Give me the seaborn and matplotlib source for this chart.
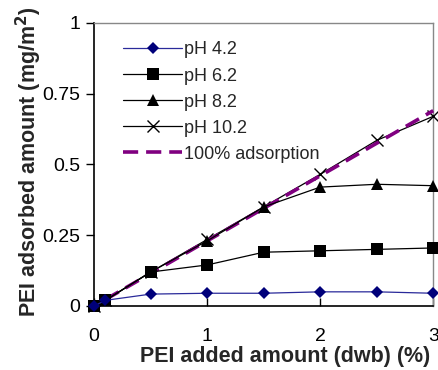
import matplotlib
matplotlib.use("Agg")
import matplotlib.pyplot as plt
import seaborn as sns
import pandas as pd

x_vals = [0, 0.1, 0.5, 1, 1.5, 2, 2.5, 3]
ph42 = [0, 0.02, 0.042, 0.045, 0.045, 0.05, 0.05, 0.045]
ph62 = [0, 0.02, 0.12, 0.145, 0.19, 0.195, 0.20, 0.205]
ph82 = [0, 0.02, 0.12, 0.23, 0.35, 0.42, 0.43, 0.425]
ph102 = [0, 0.02, 0.12, 0.235, 0.35, 0.465, 0.585, 0.67]
full_x = [0.1, 0.5, 1, 1.5, 2, 2.5, 3]
full_y = [0.023, 0.115, 0.23, 0.345, 0.46, 0.575, 0.69]

labels = ["pH 4.2", "pH 6.2", "pH 8.2", "pH 10.2", "100% adsorption"]
xticks = [0, 1, 2, 3]
yticks = [0, 0.25, 0.5, 0.75, 1]
yticklabels = ["0", "0.25", "0.5", "0.75", "1"]

sns.set_style("white")
plt.rcParams["font.family"] = ["Liberation Sans", "DejaVu Sans"]

fig = plt.figure(figsize=(4.38, 3.70), dpi=100)
ax = fig.add_axes([0.215, 0.173, 0.774, 0.765])

df42 = pd.DataFrame({"x": x_vals, "y": ph42})
df62 = pd.DataFrame({"x": x_vals, "y": ph62})
df82 = pd.DataFrame({"x": x_vals, "y": ph82})
df102 = pd.DataFrame({"x": x_vals, "y": ph102})
dffull = pd.DataFrame({"x": full_x, "y": full_y})

sns.lineplot(data=df102, x="x", y="y", ax=ax, color="black", lw=0.9,
             marker="x", markersize=8, markeredgewidth=1.0, markeredgecolor="black",
             label=labels[3], clip_on=False, zorder=3)
sns.lineplot(data=dffull, x="x", y="y", ax=ax, color="#800080", lw=2.6,
             linestyle=(0, (4.2, 2.2)), label=labels[4], clip_on=False, zorder=4)
sns.lineplot(data=df82, x="x", y="y", ax=ax, color="black", lw=0.9,
             marker="^", markersize=8, markeredgewidth=0, label=labels[2], clip_on=False, zorder=5)
sns.lineplot(data=df62, x="x", y="y", ax=ax, color="black", lw=0.9,
             marker="s", markersize=8, markeredgewidth=0, label=labels[1], clip_on=False, zorder=6)
sns.lineplot(data=df42, x="x", y="y", ax=ax, color="#2a2a9a", lw=0.9,
             marker="D", markersize=6, markerfacecolor="#00007a", markeredgewidth=0,
             label=labels[0], clip_on=False, zorder=7)

ax.set_xlim(0, 3)
ax.set_ylim(0, 1)
ax.set_xticks(xticks)
ax.set_xticklabels([str(t) for t in xticks])
ax.set_yticks(yticks)
ax.set_yticklabels(yticklabels)
ax.tick_params(axis="x", direction="in", length=6, width=1, pad=16, labelsize=14, colors="black")
ax.tick_params(axis="y", direction="out", length=6, width=1, pad=4, labelsize=14, colors="black")
ax.tick_params(left=True, bottom=True)

for s in ["left", "bottom"]:
    ax.spines[s].set_color("black")
    ax.spines[s].set_linewidth(1.2)
for s in ["top", "right"]:
    ax.spines[s].set_color("#888888")
    ax.spines[s].set_linewidth(1.0)

ax.set_xlabel("PEI added amount (dwb) (%)", fontsize=15.5, fontweight="bold", labelpad=0)
ax.xaxis.set_label_coords(0.563, -0.14)
ax.set_ylabel("PEI adsorbed amount (mg/m$^{\\mathbf{2}}$)", fontsize=15.5, fontweight="bold", labelpad=0)
ax.yaxis.set_label_coords(-0.148, 0.51)

h, l = ax.get_legend_handles_labels()
order = [l.index(n) for n in labels]
ax.legend([h[i] for i in order], [l[i] for i in order], loc="upper left",
          bbox_to_anchor=(0.063, 0.96), frameon=False, fontsize=13,
          handlelength=3.3, handletextpad=0.1, labelspacing=0.5, borderaxespad=0)

fig.savefig("out.png", dpi=100)
